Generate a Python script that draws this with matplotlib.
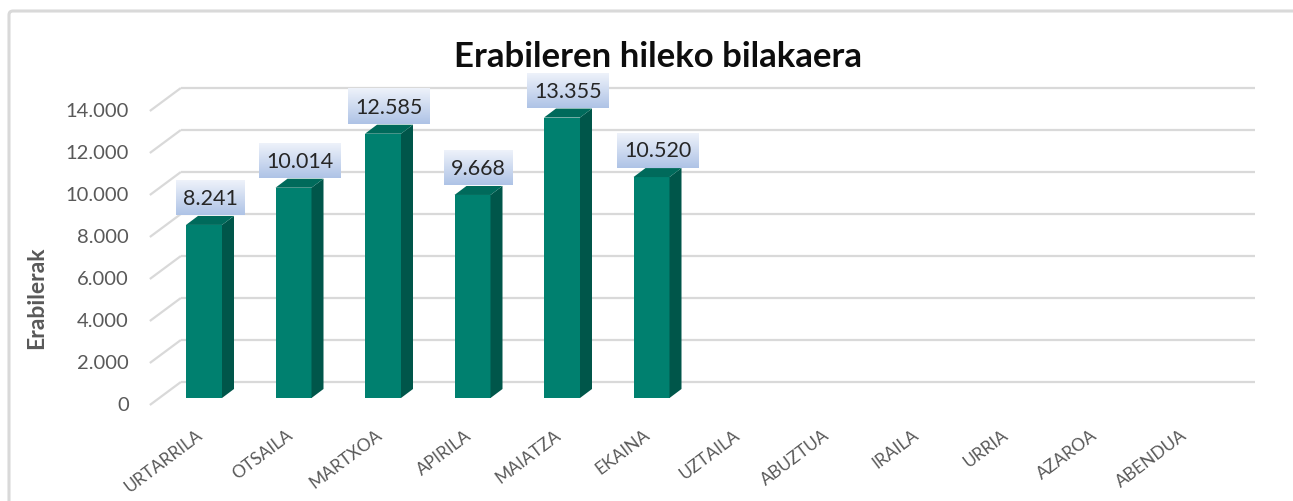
import numpy as np
import matplotlib
matplotlib.use("Agg")
import matplotlib.pyplot as plt
from matplotlib.patches import Polygon, FancyBboxPatch
from matplotlib.colors import to_rgb

# ---------------- data ----------------
months = ["URTARRILA", "OTSAILA", "MARTXOA", "APIRILA", "MAIATZA", "EKAINA",
          "UZTAILA", "ABUZTUA", "IRAILA", "URRIA", "AZAROA", "ABENDUA"]
users = [8241, 10014, 12585, 9668, 13355, 10520]
value_labels = ["8.241", "10.014", "12.585", "9.668", "13.355", "10.520"]
y_ticks = [0, 2000, 4000, 6000, 8000, 10000, 12000, 14000]
y_tick_labels = ["0", "2.000", "4.000", "6.000", "8.000", "10.000", "12.000", "14.000"]
title = "Erabileren hileko bilakaera"
y_title = "Erabilerak"

# ---------------- style ----------------
W, H, DPI = 1293, 502, 100
plt.rcParams['font.family'] = ['Lato', 'DejaVu Sans']
FRONT = '#00806F'
SIDE = '#00564A'
TOP = '#006A5B'
GRID = '#d9d9d9'
TXT_GRAY = '#595959'

fig = plt.figure(figsize=(W / DPI, H / DPI), dpi=DPI)
fig.patch.set_facecolor('white')

# axes placed in pixel terms (front plane of the bars)
ax_l, ax_r, ax_t, ax_b = 159.25, 1233.25, 105.0, 399.0
ax = fig.add_axes([ax_l / W, 1 - ax_b / H, (ax_r - ax_l) / W, (ax_b - ax_t) / H])
XMIN, XMAX, YMIN, YMAX = -0.5, 11.5, 0, 14000
ax.set_xlim(XMIN, XMAX)
ax.set_ylim(YMIN, YMAX)
ax.axis('off')

sx = (ax_r - ax_l) / (XMAX - XMIN)   # px per x unit
sy = (ax_b - ax_t) / (YMAX - YMIN)   # px per y unit


def px2d(dx, dy):
    return dx / sx, dy / sy


wall_dx, wall_dy = px2d(21.6, 16)
front_dx, front_dy = px2d(-9.4, -7)
bar_dx, bar_dy = px2d(12, 9)
BAR_W = 36 / sx
PT = 72 / DPI

# back wall gridlines and side-wall diagonals
for v in y_ticks:
    ax.plot([XMIN + wall_dx, XMAX + wall_dx], [v + wall_dy, v + wall_dy],
            color=GRID, lw=1.6, clip_on=False, solid_capstyle='butt', zorder=1)
    ax.plot([XMIN + front_dx, XMIN + wall_dx], [v + front_dy, v + wall_dy],
            color=GRID, lw=1.6, clip_on=False, solid_capstyle='butt', zorder=1)

for v, lbl in zip(y_ticks, y_tick_labels):
    ax.annotate(lbl, (XMIN + front_dx, v + front_dy), xytext=(-21 * PT, 0),
                textcoords='offset points', ha='right', va='center',
                fontsize=14.5, color=TXT_GRAY, annotation_clip=False)

# bars
x = np.arange(len(users))
ax.bar(x, users, width=BAR_W, color=FRONT, zorder=3, linewidth=0)
for xi, v in zip(x, users):
    r = xi + BAR_W / 2
    l = xi - BAR_W / 2
    ax.add_patch(Polygon([(r, 0), (r + bar_dx, bar_dy), (r + bar_dx, v + bar_dy), (r, v)],
                         closed=True, fc=SIDE, ec='none', zorder=3))
    ax.add_patch(Polygon([(l, v), (r, v), (r + bar_dx, v + bar_dy), (l + bar_dx, v + bar_dy)],
                         closed=True, fc=TOP, ec='none', zorder=3))

# value labels
texts = []
for xi, v, lbl in zip(x, users, value_labels):
    t = ax.annotate(lbl, (xi + bar_dx / 2, v + bar_dy), xytext=(0, 18 * PT),
                    textcoords='offset points', ha='center', va='center',
                    fontsize=15.5, color='#262626', zorder=6, annotation_clip=False)
    texts.append(t)

# category labels
for i, m in enumerate(months):
    ax.annotate(m, (i, 0), xytext=(-8 * PT, -28 * PT), textcoords='offset points',
                rotation=37, ha='right', va='top', rotation_mode='anchor',
                fontsize=12.5, color=TXT_GRAY, annotation_clip=False)

# titles
fig.text(658 / W, 1 - 57 / H, title, ha='center', va='center',
         fontsize=25, fontweight='bold', color='#0d0d0d')
fig.text(37 / W, 1 - 298 / H, y_title, ha='center', va='center', rotation=90,
         fontsize=16.5, fontweight='bold', color=TXT_GRAY)

# chart border (partially cropped)
fig.patches.append(FancyBboxPatch((9 / DPI, -0.2), 14, (H - 12) / DPI + 0.2,
                                  boxstyle="round,pad=0,rounding_size=0.04",
                                  transform=fig.dpi_scale_trans, fill=False,
                                  ec='#d9d9d9', lw=2.2, zorder=0))

# gradient boxes behind value labels
fig.canvas.draw()
renderer = fig.canvas.get_renderer()
c_top = np.array(to_rgb('#eef2fa'))
c_bot = np.array(to_rgb('#aec3e6'))
grad = np.linspace(0, 1, 64)[:, None, None]
img = c_top * (1 - grad) + c_bot * grad
inv = ax.transData.inverted()
for t in texts:
    bb = t.get_window_extent(renderer)
    cx = (bb.x0 + bb.x1) / 2
    cy = (bb.y0 + bb.y1) / 2
    half_w = bb.width / 2 + 7
    (x0, y0) = inv.transform((cx - half_w, cy - 17.5))
    (x1, y1) = inv.transform((cx + half_w, cy + 17.5))
    ax.imshow(img, extent=(x0, x1, y0, y1), aspect='auto', zorder=5,
              interpolation='bilinear', clip_on=False)
ax.set_xlim(XMIN, XMAX)
ax.set_ylim(YMIN, YMAX)

fig.savefig('out.png', dpi=DPI, facecolor='white')
